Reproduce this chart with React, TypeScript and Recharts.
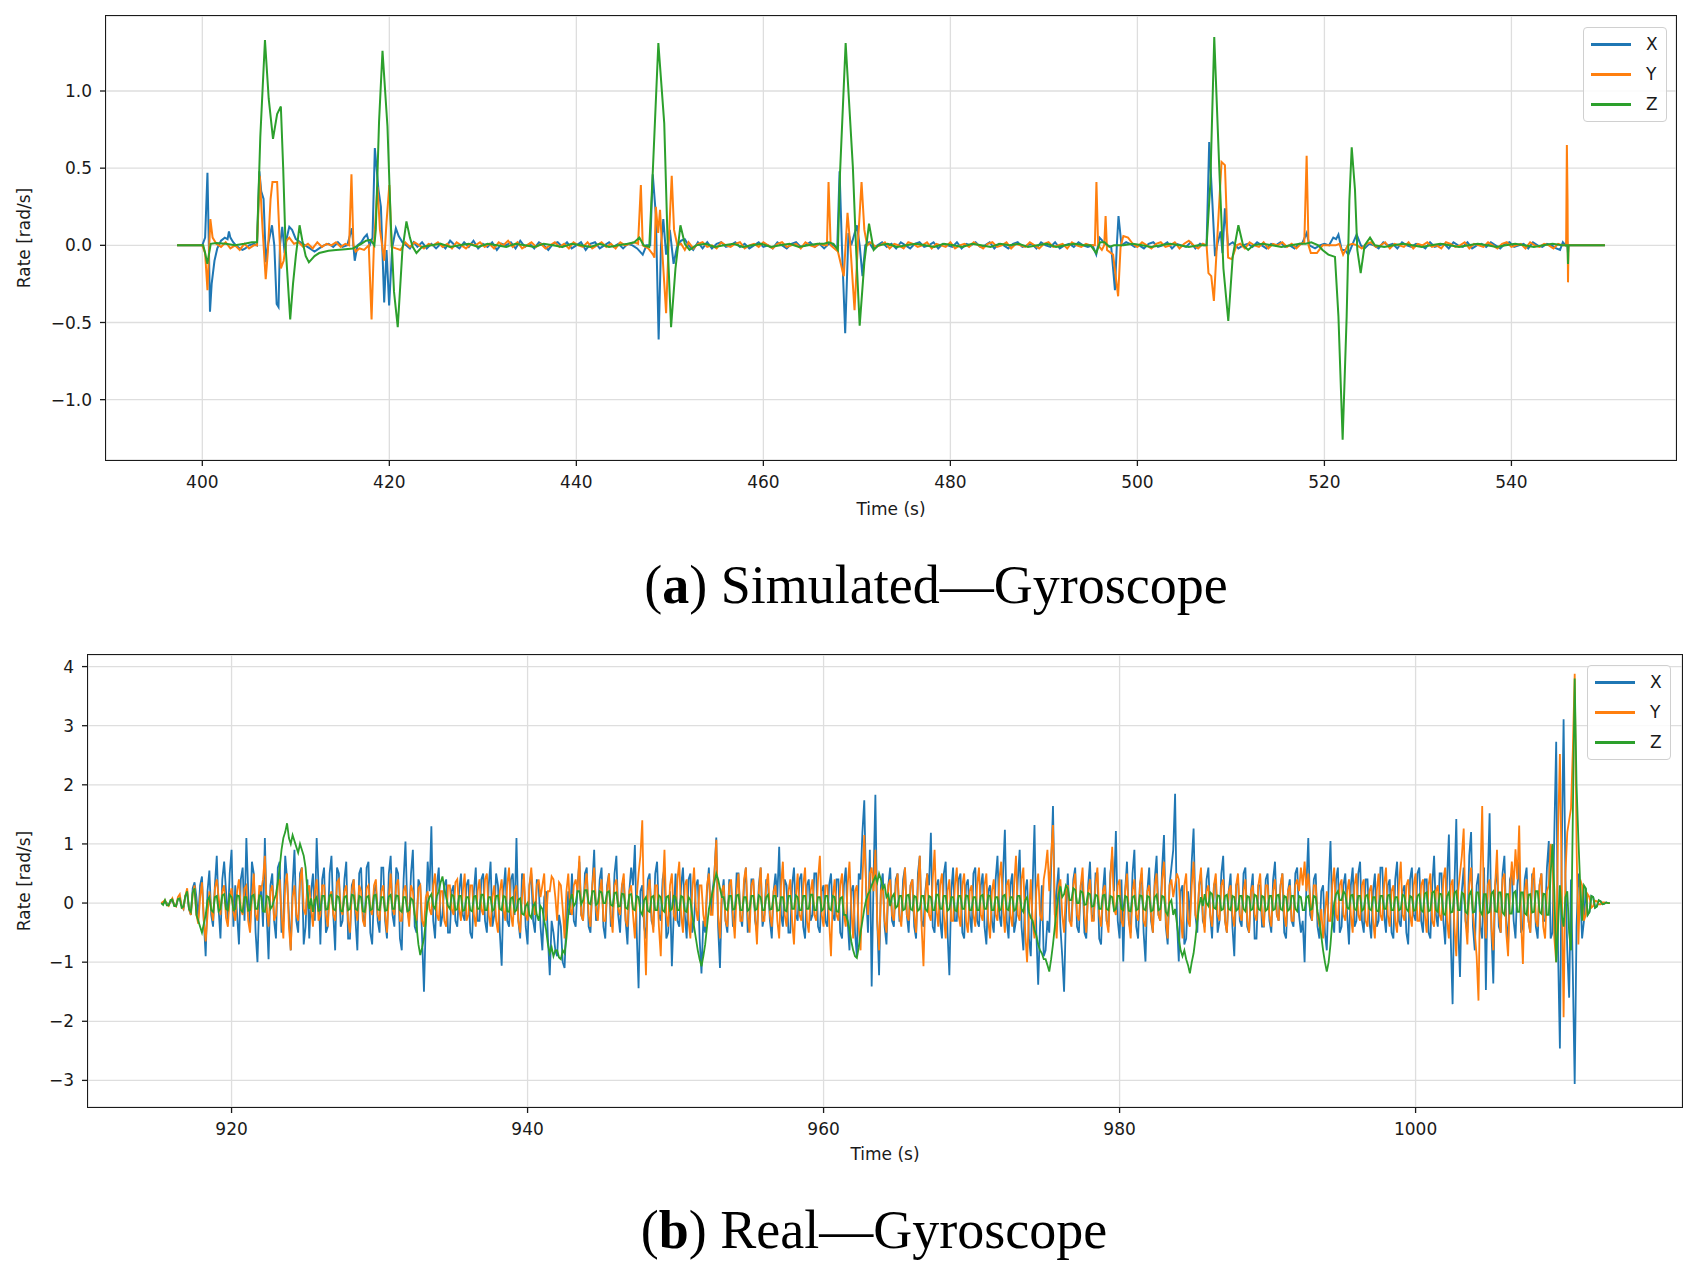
import { LineChart, Line, XAxis, YAxis, CartesianGrid } from "recharts";

const COLORS = ["#1f77b4", "#ff7f0e", "#2ca02c"];
const SERIES_NAMES = ["X", "Y", "Z"];

// (a) Simulated gyroscope: [time (s), rate (rad/s)]
const simX = [
  [397.3, 0], [400.0, 0], [400.3, 0.05], [400.55, 0.47], [400.7, 0.0], [400.82, -0.43], [401.0, -0.25], [401.3, -0.1], [401.6, -0.02], [402.0, 0.03],
  [402.4, 0.05], [402.7, 0.04], [402.85, 0.09], [403.0, 0.05], [403.3, 0.02], [403.6, 0.0], [404.0, -0.02], [404.3, -0.03], [404.6, -0.02], [405.0, 0.0],
  [405.5, 0.01], [405.85, 0.0], [406.1, 0.48], [406.3, 0.35], [406.55, 0.3], [406.8, -0.11], [407.05, 0.01], [407.45, 0.13], [407.7, 0.0], [407.95, -0.38],
  [408.15, -0.4], [408.3, 0.0], [408.55, 0.12], [408.8, -0.05], [409.0, 0.04], [409.3, 0.12], [409.6, 0.1], [410.0, 0.04], [410.5, 0.02], [411.0, 0.0],
  [411.5, -0.02], [412.0, -0.04], [412.5, -0.02], [413.0, 0.0], [413.5, 0.01], [414.0, -0.01], [414.5, 0.02], [415.0, -0.01], [415.5, 0.0], [416.0, 0.11],
  [416.3, -0.1], [416.6, 0.0], [417.0, 0.02], [417.3, 0.05], [417.6, 0.07], [417.9, 0.0], [418.2, 0.05], [418.45, 0.63], [418.84, 0.36], [419.1, 0.25],
  [419.45, -0.37], [419.7, -0.03], [419.98, -0.39], [420.3, -0.02], [420.7, 0.11], [421.0, 0.06], [421.4, 0.02], [421.8, 0.0], [422.2, -0.02], [422.6, 0.02],
  [423.0, -0.01], [423.5, 0.02], [424.0, -0.02], [424.5, 0.01], [425.0, -0.02], [425.5, 0.01], [426.0, -0.02], [426.5, 0.03], [427.0, 0.0], [427.5, -0.02],
  [428.0, 0.02], [428.5, -0.01], [429.0, 0.03], [429.5, -0.02], [430.0, 0.01], [430.5, -0.01], [431.0, 0.02], [431.5, -0.03], [432.0, 0.01], [432.5, 0.0],
  [433.0, 0.02], [433.5, -0.02], [434.0, 0.03], [434.5, -0.01], [435.0, 0.01], [435.5, -0.02], [436.0, 0.02], [436.5, 0.0], [437.0, -0.03], [437.5, 0.01],
  [438.0, 0.02], [438.5, -0.01], [439.0, 0.02], [439.5, -0.02], [440.0, 0.0], [440.5, 0.02], [441.0, -0.03], [441.5, 0.01], [442.0, 0.02], [442.5, -0.02],
  [443.0, 0.0], [443.5, 0.02], [444.0, -0.01], [444.5, 0.01], [445.0, -0.02], [445.5, 0.01], [446.0, 0.0], [446.5, -0.02], [447.1, -0.06], [447.5, 0.0],
  [447.9, 0.0], [448.17, 0.46], [448.5, 0.2], [448.8, -0.61], [449.05, 0.0], [449.3, 0.17], [449.6, -0.06], [450.0, 0.1], [450.4, -0.12], [450.8, 0.0],
  [451.2, 0.03], [451.6, 0.04], [452.0, 0.0], [452.5, -0.03], [453.0, 0.02], [453.5, -0.02], [454.0, 0.02], [454.5, -0.02], [455.0, 0.01], [455.5, 0.02],
  [456.0, -0.01], [456.5, 0.0], [457.0, 0.02], [457.5, -0.01], [458.0, 0.01], [458.5, -0.02], [459.0, 0.0], [459.5, 0.02], [460.0, -0.01], [460.5, 0.0],
  [461.0, -0.02], [461.5, 0.02], [462.0, 0.0], [462.5, -0.02], [463.0, 0.01], [463.5, 0.02], [464.0, -0.01], [464.5, 0.0], [465.0, 0.02], [465.5, -0.01],
  [466.0, 0.01], [466.5, -0.02], [467.0, 0.01], [467.5, 0.0], [467.9, -0.02], [468.15, 0.48], [468.4, 0.0], [468.75, -0.57], [469.1, 0.08], [469.4, 0.0],
  [470.0, 0.13], [470.3, 0.0], [470.6, -0.2], [470.9, 0.0], [471.3, 0.02], [471.7, -0.02], [472.2, 0.0], [472.7, 0.02], [473.2, -0.01], [473.7, 0.01],
  [474.2, -0.02], [474.7, 0.02], [475.2, 0.0], [475.7, -0.02], [476.2, 0.01], [476.7, 0.02], [477.2, -0.01], [477.7, 0.0], [478.2, 0.02], [478.7, -0.02],
  [479.2, 0.01], [479.7, 0.0], [480.2, -0.01], [480.7, 0.02], [481.2, -0.02], [481.7, 0.01], [482.2, 0.0], [482.7, 0.02], [483.2, -0.01], [483.7, 0.0],
  [484.2, 0.02], [484.7, -0.02], [485.2, 0.01], [485.7, 0.0], [486.2, -0.02], [486.7, 0.01], [487.2, 0.02], [487.7, -0.01], [488.2, 0.0], [488.7, 0.01],
  [489.2, -0.02], [489.7, 0.02], [490.2, 0.0], [490.7, -0.01], [491.2, 0.02], [491.7, -0.02], [492.2, 0.0], [492.7, 0.01], [493.2, -0.01], [493.7, 0.02],
  [494.2, 0.0], [494.7, -0.01], [495.2, 0.0], [495.6, -0.06], [495.95, 0.05], [496.4, 0.02], [496.8, 0.0], [497.2, -0.01], [497.6, -0.29], [497.8, 0.0],
  [497.98, 0.19], [498.3, 0.0], [498.8, 0.02], [499.2, 0.01], [499.7, -0.01], [500.2, 0.0], [500.7, -0.02], [501.2, 0.01], [501.7, 0.02], [502.2, -0.01],
  [502.7, 0.0], [503.2, 0.02], [503.7, -0.02], [504.2, 0.01], [504.7, 0.0], [505.2, -0.01], [505.7, 0.02], [506.2, -0.02], [506.7, 0.01], [507.1, 0.0],
  [507.4, 0.0], [507.68, 0.67], [508.0, 0.3], [508.3, -0.07], [508.6, 0.02], [508.9, 0.09], [509.1, -0.05], [509.36, 0.24], [509.7, 0.0], [510.2, 0.02],
  [510.8, -0.02], [511.3, 0.0], [511.8, 0.01], [512.3, -0.01], [512.8, 0.02], [513.3, 0.0], [513.8, -0.02], [514.3, 0.01], [514.8, 0.0], [515.3, 0.02],
  [515.8, -0.01], [516.3, 0.0], [516.8, -0.02], [517.3, 0.01], [517.6, 0.01], [518.1, 0.08], [518.4, 0.0], [519.0, -0.02], [519.5, 0.0], [520.0, 0.01],
  [520.5, 0.0], [520.95, 0.05], [521.25, 0.04], [521.5, 0.07], [521.85, -0.03], [522.2, -0.03], [522.56, -0.06], [523.1, 0.02], [523.45, 0.07], [523.9, 0.0],
  [524.3, -0.02], [524.8, 0.01], [525.3, 0.0], [525.8, -0.02], [526.3, 0.02], [526.8, 0.0], [527.3, 0.01], [527.8, -0.02], [528.3, 0.02], [528.8, 0.0],
  [529.3, -0.01], [529.8, 0.01], [530.3, 0.0], [530.8, -0.02], [531.3, 0.02], [531.8, -0.01], [532.3, 0.0], [532.8, 0.01], [533.3, -0.02], [533.8, 0.02],
  [534.3, 0.0], [534.8, -0.01], [535.3, 0.02], [535.8, -0.02], [536.3, 0.0], [536.8, 0.01], [537.3, -0.01], [537.8, 0.02], [538.3, 0.0], [538.8, -0.02],
  [539.3, 0.01], [539.8, 0.02], [540.3, -0.01], [540.8, 0.0], [541.3, 0.01], [541.8, -0.02], [542.3, 0.02], [542.8, 0.0], [543.3, -0.01], [543.8, 0.01],
  [544.3, 0.0], [544.8, -0.02], [545.2, -0.03], [545.5, 0.02], [545.8, 0.0], [545.95, 0.03], [546.05, -0.05], [546.1, 0.0], [550.0, 0],
];

const simY = [
  [397.3, 0], [400.0, 0], [400.3, -0.05], [400.55, -0.29], [400.86, 0.17], [401.1, 0.05], [401.5, 0.01], [402.0, -0.01], [402.5, 0.02], [403.0, -0.02],
  [403.5, 0.0], [404.0, -0.03], [404.5, 0.01], [405.0, -0.02], [405.5, 0.0], [405.85, 0.0], [406.14, 0.45], [406.45, 0.1], [406.78, -0.22], [407.0, -0.05],
  [407.3, 0.3], [407.5, 0.41], [408.0, 0.41], [408.15, 0.2], [408.4, -0.15], [408.7, -0.1], [409.0, 0.03], [409.3, 0.05], [409.8, 0.01], [410.3, 0.02],
  [410.8, -0.01], [411.3, 0.01], [411.8, -0.02], [412.3, 0.02], [412.8, -0.01], [413.3, 0.01], [413.8, 0.0], [414.3, 0.02], [414.8, -0.01], [415.3, 0.01],
  [415.7, 0.0], [415.95, 0.46], [416.16, 0.0], [416.4, -0.04], [416.8, -0.02], [417.3, -0.03], [417.8, 0.0], [418.1, -0.48], [418.35, 0.0], [418.73, 0.38],
  [419.0, 0.1], [419.45, -0.1], [419.7, 0.15], [420.0, 0.39], [420.25, -0.01], [420.7, -0.02], [421.2, -0.03], [421.7, 0.02], [422.2, -0.01], [422.7, 0.02],
  [423.2, 0.0], [423.7, -0.02], [424.2, 0.01], [424.7, 0.0], [425.2, 0.02], [425.7, -0.01], [426.2, 0.01], [426.7, -0.02], [427.2, 0.02], [427.7, 0.0],
  [428.2, -0.02], [428.7, 0.01], [429.2, 0.0], [429.7, 0.02], [430.2, -0.01], [430.7, 0.01], [431.2, -0.02], [431.7, 0.02], [432.2, 0.0], [432.7, 0.03],
  [433.2, -0.01], [433.7, 0.02], [434.2, -0.02], [434.7, 0.0], [435.2, 0.02], [435.7, -0.01], [436.2, 0.01], [436.7, -0.02], [437.2, 0.0], [437.7, 0.02],
  [438.2, -0.01], [438.7, 0.01], [439.2, -0.02], [439.7, 0.02], [440.2, 0.0], [440.7, -0.01], [441.2, 0.02], [441.7, -0.02], [442.2, 0.0], [442.7, 0.02],
  [443.2, -0.01], [443.7, 0.01], [444.2, -0.02], [444.7, 0.02], [445.2, 0.0], [445.7, 0.01], [446.2, 0.02], [446.6, 0.01], [446.9, 0.39], [447.1, 0.0],
  [447.7, -0.02], [448.2, -0.06], [448.35, -0.08], [448.5, 0.25], [448.75, 0.08], [448.95, 0.23], [449.15, 0.0], [449.6, -0.44], [449.85, -0.02], [450.2, 0.45],
  [450.45, 0.1], [450.8, 0.0], [451.2, 0.01], [451.6, -0.03], [452.0, 0.02], [452.5, -0.02], [453.0, 0.01], [453.5, 0.02], [454.0, -0.01], [454.5, 0.0],
  [455.0, -0.02], [455.5, 0.02], [456.0, 0.0], [456.5, -0.01], [457.0, 0.01], [457.5, 0.02], [458.0, -0.02], [458.5, 0.0], [459.0, 0.01], [459.5, -0.01],
  [460.0, 0.02], [460.5, 0.0], [461.0, -0.02], [461.5, 0.01], [462.0, 0.02], [462.5, -0.01], [463.0, 0.0], [463.5, 0.01], [464.0, -0.02], [464.5, 0.02],
  [465.0, 0.0], [465.5, -0.01], [466.0, 0.01], [466.5, 0.0], [466.8, 0.0], [466.97, 0.41], [467.2, 0.0], [467.97, -0.04], [468.6, -0.2], [469.0, 0.21],
  [469.3, 0.0], [469.75, -0.42], [470.1, 0.0], [470.5, 0.41], [470.8, 0.1], [471.1, 0.0], [471.5, 0.02], [472.0, -0.01], [472.5, 0.0], [473.0, 0.02],
  [473.5, -0.02], [474.0, 0.01], [474.5, 0.0], [475.0, -0.02], [475.5, 0.02], [476.0, 0.01], [476.5, -0.01], [477.0, 0.0], [477.5, 0.02], [478.0, -0.02],
  [478.5, 0.01], [479.0, 0.0], [479.5, -0.01], [480.0, 0.02], [480.5, -0.02], [481.0, 0.0], [481.5, 0.01], [482.0, -0.01], [482.5, 0.02], [483.0, 0.0],
  [483.5, -0.02], [484.0, 0.01], [484.5, 0.02], [485.0, -0.01], [485.5, 0.0], [486.0, 0.02], [486.5, -0.02], [487.0, 0.01], [487.5, 0.0], [488.0, -0.01],
  [488.5, 0.02], [489.0, 0.0], [489.5, -0.02], [490.0, 0.01], [490.5, 0.02], [491.0, -0.01], [491.5, 0.0], [492.0, 0.01], [492.5, -0.02], [493.0, 0.02],
  [493.5, 0.0], [494.0, -0.01], [494.5, 0.01], [495.0, 0.0], [495.45, 0.0], [495.62, 0.41], [495.8, 0.0], [496.2, -0.03], [496.45, 0.0], [496.6, 0.19],
  [496.75, -0.03], [497.4, -0.06], [497.94, -0.33], [498.2, -0.01], [498.5, 0.06], [499.0, 0.05], [499.5, 0.01], [500.0, -0.01], [500.5, 0.02], [501.0, 0.0],
  [501.5, -0.02], [502.0, 0.01], [502.5, 0.02], [503.0, -0.01], [503.5, 0.0], [504.0, 0.02], [504.5, -0.02], [505.0, 0.01], [505.5, 0.03], [506.0, 0.0],
  [506.5, -0.02], [507.0, 0.01], [507.4, 0.0], [507.6, -0.18], [507.9, -0.2], [508.18, -0.36], [508.5, 0.0], [509.0, 0.54], [509.36, 0.52], [509.7, -0.08],
  [510.1, -0.09], [510.6, 0.0], [511.0, 0.01], [511.5, -0.02], [512.0, 0.02], [512.5, 0.0], [513.0, -0.01], [513.5, 0.02], [514.0, -0.02], [514.5, 0.01],
  [515.0, 0.0], [515.5, 0.02], [516.0, -0.01], [516.5, 0.01], [517.0, -0.02], [517.5, 0.01], [517.85, 0.02], [518.1, 0.58], [518.3, 0.0], [518.55, -0.05],
  [519.2, -0.05], [519.8, 0.0], [520.5, 0.0], [521.2, 0.0], [521.6, 0.01], [522.0, -0.06], [522.5, 0.0], [523.0, 0.01], [523.5, 0.0], [524.0, -0.02],
  [524.5, 0.01], [525.0, 0.02], [525.5, -0.01], [526.0, 0.0], [526.5, 0.02], [527.0, -0.02], [527.5, 0.01], [528.0, 0.0], [528.5, -0.01], [529.0, 0.02],
  [529.5, -0.02], [530.0, 0.01], [530.5, 0.0], [531.0, 0.02], [531.5, -0.01], [532.0, 0.0], [532.5, -0.02], [533.0, 0.02], [533.5, 0.01], [534.0, -0.01],
  [534.5, 0.0], [535.0, 0.02], [535.5, -0.02], [536.0, 0.01], [536.5, 0.0], [537.0, -0.01], [537.5, 0.02], [538.0, 0.0], [538.5, -0.02], [539.0, 0.01],
  [539.5, 0.02], [540.0, -0.01], [540.5, 0.0], [541.0, 0.01], [541.5, -0.02], [542.0, 0.02], [542.5, 0.0], [543.0, -0.01], [543.5, 0.01], [544.0, 0.0],
  [544.5, -0.02], [545.0, 0.01], [545.5, 0.0], [545.85, 0.0], [545.93, 0.65], [546.0, 0.3], [546.05, -0.24], [546.1, 0.0], [550.0, 0],
];

const simZ = [
  [397.3, 0], [400.1, 0], [400.3, -0.05], [400.54, -0.12], [400.9, 0.01], [401.5, 0.015], [402.5, 0.01], [403.5, 0.0], [404.5, 0.01], [405.3, 0.02],
  [405.85, 0.02], [406.2, 0.7], [406.7, 1.33], [407.1, 0.95], [407.56, 0.69], [408.0, 0.85], [408.4, 0.9], [408.65, 0.5], [408.9, 0.0], [409.4, -0.48],
  [409.7, -0.25], [410.0, -0.07], [410.4, 0.13], [410.7, 0.03], [411.06, -0.07], [411.4, -0.11], [412.0, -0.07], [412.5, -0.05], [413.5, -0.035], [414.3, -0.03],
  [415.3, -0.025], [416.1, -0.02], [417.0, 0.01], [417.5, 0.03], [418.0, 0.035], [418.4, 0.0], [418.55, 0.1], [418.9, 0.8], [419.27, 1.26], [419.8, 0.77],
  [420.16, 0.14], [420.5, -0.3], [420.9, -0.53], [421.4, -0.03], [421.83, 0.155], [422.2, 0.05], [422.5, -0.01], [422.9, -0.05], [423.5, -0.01], [424.5, 0.0],
  [425.5, 0.01], [426.5, -0.01], [427.5, 0.0], [428.5, 0.01], [429.5, -0.01], [430.5, 0.01], [431.5, 0.0], [432.5, -0.01], [433.5, 0.01], [434.5, 0.0],
  [435.5, -0.01], [436.5, 0.01], [437.5, 0.0], [438.5, -0.01], [439.5, 0.01], [440.5, 0.0], [441.5, -0.01], [442.5, 0.01], [443.5, -0.01], [444.5, 0.0],
  [445.5, 0.01], [446.2, 0.02], [446.74, 0.05], [447.2, 0.0], [447.8, -0.01], [448.17, 0.47], [448.77, 1.31], [449.4, 0.79], [449.77, 0.0], [450.13, -0.53],
  [450.6, -0.15], [451.13, 0.13], [451.6, 0.01], [452.1, -0.03], [452.8, 0.0], [453.8, 0.01], [454.8, -0.01], [455.8, 0.0], [456.8, 0.01], [457.8, -0.01],
  [458.8, 0.0], [459.8, 0.01], [460.8, -0.01], [461.8, 0.0], [462.8, 0.01], [463.8, -0.01], [464.8, 0.0], [465.8, 0.01], [466.5, 0.01], [467.0, 0.02],
  [467.5, 0.01], [467.97, -0.03], [468.2, 0.47], [468.8, 1.31], [469.57, 0.51], [469.9, 0.0], [470.3, -0.52], [470.8, -0.11], [471.3, 0.14], [471.8, -0.03],
  [472.3, 0.0], [473.3, 0.01], [474.3, -0.01], [475.3, 0.0], [476.3, 0.01], [477.3, 0.0], [478.3, -0.01], [479.3, 0.01], [480.3, 0.0], [481.3, -0.01],
  [482.3, 0.01], [483.3, 0.0], [484.3, -0.01], [485.3, 0.01], [486.3, 0.0], [487.3, 0.01], [488.3, -0.01], [489.3, 0.0], [490.3, 0.01], [491.3, -0.01],
  [492.3, 0.0], [493.3, 0.01], [494.3, 0.0], [495.0, 0.0], [495.6, -0.05], [496.0, 0.02], [496.5, 0.02], [497.0, -0.01], [497.5, 0.0], [498.5, 0.0],
  [499.5, 0.01], [500.5, 0.0], [501.5, -0.01], [502.5, 0.0], [503.5, 0.01], [504.5, 0.0], [505.5, -0.01], [506.5, 0.0], [507.4, 0.0], [507.8, 0.4],
  [508.22, 1.35], [508.75, 0.51], [509.2, -0.15], [509.72, -0.49], [510.2, -0.07], [510.8, 0.13], [511.3, 0.0], [511.85, -0.03], [512.4, 0.0], [513.4, 0.01],
  [514.4, 0.0], [515.4, -0.01], [516.4, 0.0], [517.4, 0.01], [518.0, 0.01], [518.6, 0.02], [519.35, 0.0], [519.8, -0.03], [520.42, -0.06], [521.13, -0.075],
  [521.5, -0.46], [521.95, -1.26], [522.38, -0.46], [522.67, 0.29], [522.92, 0.635], [523.27, 0.36], [523.52, -0.03], [523.88, -0.18], [524.3, 0.0], [524.88, 0.05],
  [525.4, 0.0], [526.4, -0.01], [527.4, 0.0], [528.4, 0.01], [529.4, 0.0], [530.4, -0.01], [531.4, 0.0], [532.4, 0.01], [533.4, 0.0], [534.4, -0.01],
  [535.4, 0.0], [536.4, 0.01], [537.4, 0.0], [538.4, -0.01], [539.4, 0.0], [540.4, 0.01], [541.4, 0.0], [542.4, -0.01], [543.4, 0.0], [544.4, 0.01],
  [545.4, 0.0], [546.0, 0.0], [546.05, -0.12], [546.1, 0.0], [550.0, 0],
];

const simTicksX = [400, 420, 440, 460, 480, 500, 520, 540];
const simTicksY = [-1.0, -0.5, 0.0, 0.5, 1.0];

// (b) Real gyroscope, sampled every 0.125 s from 915.25 s (one row = 5 s)
const realStart = 915.25;
const realStep = 0.125;

const realX = [
  0, -0.01, 0.02, 0.0, -0.03, 0.02, 0.04, -0.02, -0.05, 0.06, 0.08, -0.04, -0.1, 0.12, 0.15, -0.1, -0.2, 0.25, 0.35, 0.1, -0.25, 0.3, 0.45, -0.3, -0.9, 0.2, 0.55, -0.2, -0.4, 0.3, 0.8, -0.1, -0.6, 0.4, 0.7, 0.2, -0.3, 0.5, 0.9, -0.4,
  0.3, -0.2, -0.7, 0.4, 0.6, -0.3, 1.1, 0.2, -0.4, 0.7, 0.5, -0.5, -1.0, 0.1, 0.3, -0.4, 1.1, -0.2, -0.95, 0.3, 0.5, -0.3, -0.6, 0.6, 0.7, -0.5, -0.3, 0.8, 0.4, -0.2, -0.8, 0.3, 0.9, -0.3, -0.5, 0.5, 0.6, -0.7, -0.4, 0.4,
  -0.6, 0.2, 0.5, -0.3, 1.1, 0.3, -0.7, 0.4, 0.6, -0.5, -0.4, 0.5, 0.8, -0.2, -0.8, 0.6, 0.5, -0.4, -0.3, 0.4, 0.7, -0.6, -0.6, 0.3, 0.4, -0.3, -0.8, 0.5, 0.6, -0.2, -0.4, 0.6, 0.7, -0.5, -0.7, 0.2, 0.3, -0.3, -0.5, 0.6,
  0.6, -0.3, -0.6, 0.5, 0.8, -0.2, -0.4, 0.6, 0.5, -0.6, -0.8, 0.4, 1.04, -0.1, -0.3, 0.5, 0.9, -0.4, -0.5, 0.4, 0.3, -0.6, -1.5, -0.3, 0.7, 0.2, 1.3, -0.3, -0.6, 0.3, 0.6, -0.4, -0.2, 0.3, 0.4, -0.5, -0.5, 0.2, 0.3, -0.3,
  -0.4, 0.2, 0.5, -0.2, -0.3, 0.3, 0.4, -0.5, -0.6, 0.2, 0.6, -0.3, -0.3, 0.4, 0.5, -0.3, -0.5, 0.3, 0.7, -0.4, -0.2, 0.5, 0.3, -0.5, -1.06, 0.2, 0.6, -0.3, -0.4, 0.4, 0.5, -0.2, 1.1, -0.3, -0.6, 0.5, 0.4, -0.4, -0.7, 0.3,
  0.5, -0.3, -0.5, 0.4, 0.3, -0.4, -0.8, 0.1, 0.2, -0.6, -1.22, -0.3, -0.5, -0.8, -0.9, -0.2, -0.4, -1.0, -1.1, -0.3, 0.2, -0.2, 0.5, -0.3, -0.4, 0.3, 0.7, -0.2, -0.3, 0.5, 0.6, -0.4, -0.5, 0.3, 0.9, -0.3, -0.2, 0.4, 0.6, -0.4,
  -0.6, 0.3, 0.5, -0.4, -0.3, 0.5, 0.8, -0.2, -0.5, 0.3, 0.4, -0.3, -0.7, 0.2, 0.6, 0.3, 0.98, -0.5, -1.44, 0.2, 0.3, -0.4, -0.6, 0.4, 0.5, -0.3, -0.4, 0.5, 0.7, -0.2, -0.3, 0.4, 0.6, -0.6, -0.5, 0.2, -1.07, -0.2, 0.5, -0.3,
  -0.4, 0.3, 0.6, -0.2, -0.6, 0.4, 0.5, -0.5, -0.3, 0.3, 0.4, -0.6, -1.19, -0.3, -0.5, 0.2, 0.6, -0.2, 0.2, 0.5, 1.11, -0.4, -1.1, 0.1, 0.4, -0.3, -0.5, 0.4, 0.3, -0.4, -0.3, 0.5, 0.5, -0.2, -0.4, 0.3, 0.6, -0.5, -0.3, 0.4,
  0.4, -0.3, -0.5, 0.3, 0.6, -0.4, -0.2, 0.4, 0.3, -0.3, -0.6, 0.2, 0.5, 0.1, 0.95, -0.2, -0.4, 0.4, 0.3, -0.5, -0.5, 0.3, 0.6, -0.2, -0.3, 0.4, 0.5, -0.4, -0.6, 0.3, 0.4, -0.3, -0.2, 0.5, 0.5, -0.4, -0.5, 0.2, 0.3, -0.3,
  -0.4, 0.3, 0.5, -0.2, -0.3, 0.4, 0.4, -0.5, -0.6, 0.3, 0.6, -0.3, -0.8, 0.2, 0.3, -0.5, -0.9, 0.5, 0.4, 1.2, 1.74, 0.2, -0.5, 0.9, -1.41, 0.4, 1.83, -0.3, -1.22, 0.3, 0.5, -0.4, -0.7, 0.3, 0.6, -0.3, -0.4, 0.4, 0.5, -0.3,
  -0.3, 0.4, 0.6, -0.2, -0.5, 0.3, 0.4, -0.4, -0.6, 0.5, 0.8, -0.3, -0.4, 0.2, 0.5, 0.3, 1.19, -0.4, -0.5, 0.3, 0.4, -0.3, -0.6, 0.5, 0.7, -0.5, -1.22, 0.2, 0.6, -0.3, -0.3, 0.4, 0.5, -0.5, -0.6, 0.3, 0.4, -0.2, -0.5, 0.5,
  0.6, -0.3, -0.4, 0.3, 0.5, -0.4, -0.7, 0.2, 0.3, -0.3, -0.5, 0.4, 0.8, -0.2, -0.4, 0.5, 1.24, -0.3, -0.6, 0.3, 0.5, -0.5, -0.3, 0.4, 0.9, -0.4, -0.8, 0.2, 0.4, -0.6, -0.9, 0.3, 1.32, -0.5, -1.38, -0.4, 0.3, -0.9, -0.8, -0.3,
  -0.5, 0.6, 1.64, -0.2, 0.2, 0.6, -0.4, -0.9, -1.5, -0.2, 0.5, -0.3, -0.3, 0.4, 0.6, -0.4, -0.5, 0.3, 0.4, -0.5, -0.6, 0.3, 0.7, -0.2, -0.3, 0.5, 0.5, -0.6, -0.7, 0.2, 0.6, -0.3, -0.4, 0.5, 0.8, 0.2, 1.22, -0.3, -0.6, 0.4,
  -0.99, 0.2, 0.7, -0.3, -0.5, 0.5, 0.9, -0.4, -0.6, 0.3, 0.5, -0.5, -0.99, 0.2, 0.6, -0.3, -0.5, 0.4, 0.8, -0.2, -0.3, 0.6, 1.15, -0.4, -0.7, 0.3, 0.6, 0.9, 1.85, -0.3, -0.99, 0.2, 0.3, -0.7, -0.6, 0.2, -0.3, 0.7, 1.26, -0.2,
  -0.5, 0.3, 0.5, -0.3, -0.4, 0.4, 0.6, -0.2, -0.6, 0.3, 0.4, -0.5, -0.3, 0.5, 0.8, -0.3, -0.5, 0.2, 0.5, -0.4, -0.9, 0.3, 0.4, -0.3, -0.4, 0.5, 0.6, -0.4, -0.5, 0.2, 0.5, -0.6, -0.6, 0.3, 0.3, -0.4, -0.4, 0.4, 0.5, -0.3,
  -0.5, 0.4, 0.7, -0.2, -0.3, 0.3, 0.5, -0.5, -0.6, 0.2, 0.4, -0.3, -0.4, 0.5, 0.6, -0.2, -0.5, -0.3, -1.0, 0.3, 1.1, -0.2, -0.3, 0.4, 0.5, -0.4, -0.6, 0.2, 0.3, -0.5, -0.8, 0.3, 1.05, -0.3, -0.5, 0.4, 0.6, -0.5, -0.4, 0.3,
  0.5, -0.2, -0.7, 0.3, 0.6, -0.4, -0.3, 0.5, 0.7, -0.3, -0.5, 0.4, 0.4, -0.3, -0.6, 0.2, 0.5, -0.4, -0.3, 0.6, 0.6, -0.2, -0.5, 0.3, 0.4, -0.5, -0.6, 0.4, 0.7, -0.3, -0.4, 0.2, 0.3, -0.5, -0.7, 0.4, 0.6, -0.2, -0.3, 0.5,
  0.6, -0.3, -0.5, 0.4, 0.4, -0.5, -0.6, 0.3, 0.8, -0.2, -0.4, 0.5, 0.5, -0.3, -0.7, 0.4, 1.16, -0.6, -1.71, 0.3, 1.42, -0.4, -1.25, 0.2, 0.6, -0.3, -0.5, 0.8, 1.2, -0.4, -0.8, 0.3, 0.5, -0.4, -0.6, 0.6, -1.47, 0.4, 1.52, -0.5,
  -1.36, 0.3, 0.6, -0.4, -0.5, 0.5, 0.8, -0.3, -0.7, 0.4, 0.5, -0.3, -0.6, 0.3, 0.7, -0.5, -0.4, 0.4, 0.6, -0.3, -0.5, 0.5, 0.4, -0.4, -0.6, 0.3, 0.5, -0.3, -0.3, 0.6, 1.05, -0.6, -0.5, 1.2, 2.73, -0.8, -2.46, 0.9, 3.11, 0.4,
  -0.8, -1.6, 0.4, -1.2, -3.06, -0.4, 0.5, 0.2, -0.6, -0.3, 0.25, -0.2, -0.15, 0.12, 0.1, -0.08, -0.05, 0.04, 0.03, -0.02, -0.01, 0.01, 0, 0,
];

const realY = [
  0, 0.02, 0.05, -0.02, -0.05, 0.03, 0.08, -0.04, -0.06, 0.1, 0.15, -0.05, -0.1, 0.12, 0.25, -0.1, -0.2, 0.15, 0.3, -0.2, -0.35, 0.1, 0.35, -0.3, -0.65, -0.2, 0.2, -0.1, -0.3, 0.25, 0.4, 0.1, -0.2, 0.2, 0.3, -0.25, -0.4, 0.1, 0.25, -0.15,
  -0.3, 0.2, 0.4, -0.1, -0.2, 0.25, 0.3, -0.3, -0.5, 0.1, 0.5, -0.2, -0.3, 0.3, 0.2, 0.4, 0.8, -0.1, -0.4, 0.2, 0.3, -0.3, -0.2, 0.3, 0.4, -0.2, -0.6, 0.3, 0.5, -0.4, -0.8, 0.1, 0.3, -0.2, -0.3, 0.35, 0.6, -0.1, -0.2, 0.2,
  0.3, -0.1, -0.4, 0.2, 0.4, -0.3, -0.2, 0.3, 0.3, -0.2, -0.4, 0.1, 0.2, -0.2, -0.3, 0.35, 0.4, -0.1, -0.2, 0.2, 0.3, -0.3, -0.5, 0.2, 0.4, -0.1, -0.3, 0.3, 0.2, -0.3, -0.4, 0.25, 0.3, -0.1, -0.2, 0.3, 0.4, -0.2, -0.3, 0.2,
  0.3, -0.2, -0.5, 0.1, 0.5, -0.1, -0.2, 0.3, 0.4, -0.3, -0.3, 0.2, 0.3, -0.1, -0.4, 0.3, 0.2, -0.2, -0.3, 0.25, 0.3, -0.3, -0.4, 0.1, 0.2, -0.1, -0.2, 0.3, 0.5, -0.2, -0.3, 0.2, 0.2, -0.3, -0.4, 0.3, 0.3, -0.1, -0.2, 0.35,
  0.4, -0.1, -0.3, 0.2, 0.5, -0.3, -0.2, 0.3, 0.3, -0.2, -0.4, 0.2, 0.4, -0.1, -0.2, 0.4, 0.5, -0.2, -0.4, 0.1, 0.3, -0.3, -0.5, 0.2, 0.4, -0.1, -0.3, 0.3, 0.6, -0.2, -0.4, 0.2, 0.3, -0.3, -0.5, 0.1, 0.5, -0.2, -0.3, 0.3,
  0.6, 0.1, -0.2, 0.3, 0.4, 0.1, 0.3, 0.5, -0.3, 0.2, 0.2, 0.45, 0.4, 0.1, -0.3, 0.35, 0.3, -0.1, -0.6, 0.2, 0.5, -0.1, -0.2, 0.3, 0.4, 0.2, 0.8, -0.2, -0.3, 0.3, 0.5, -0.2, -0.4, 0.3, 0.6, -0.1, -0.3, 0.2, 0.4, -0.3,
  -0.3, 0.2, 0.5, -0.2, -0.5, 0.3, 0.4, -0.1, -0.2, 0.3, 0.5, -0.3, -0.4, 0.2, 0.3, -0.2, -0.6, 0.1, 0.5, 0.8, 1.4, -0.3, -1.22, 0.2, 0.4, -0.2, -0.5, 0.3, 0.3, -0.4, -0.9, 0.2, 0.9, -0.2, -0.4, 0.3, 0.5, -0.2, -0.3, 0.4,
  0.7, -0.2, -0.5, 0.3, 0.4, -0.3, -0.6, 0.2, 0.6, -0.1, -0.3, 0.3, 0.3, -0.2, -0.4, 0.3, 0.5, -0.2, -0.2, 0.5, 1.07, -0.2, -0.6, 0.2, 0.3, -0.3, -0.4, 0.3, 0.4, -0.2, -0.6, 0.2, 0.5, -0.3, -0.3, 0.4, 0.6, -0.2, -0.5, 0.3,
  0.4, -0.2, -0.7, 0.2, 0.6, -0.3, -0.3, 0.3, 0.5, -0.2, -0.4, 0.2, 0.3, -0.3, -0.6, 0.3, 0.7, -0.2, -0.4, 0.2, 0.4, -0.3, -0.7, 0.1, 0.5, -0.2, -0.3, 0.3, 0.6, -0.3, -0.5, 0.2, 0.4, -0.2, -0.3, 0.4, 0.8, -0.2, -0.4, 0.3,
  0.3, -0.3, -0.9, 0.1, 0.4, -0.2, -0.3, 0.3, 0.5, -0.2, -0.4, 0.3, 0.7, -0.1, -0.6, 0.2, 0.3, -0.4, -0.8, 0.4, 1.15, 0.3, -0.2, 0.5, 0.6, 0.2, 0.9, -0.3, -0.8, 0.2, 0.3, -0.3, -0.5, 0.3, 0.4, -0.2, -0.3, 0.3, 0.5, -0.2,
  -0.4, 0.2, 0.6, -0.2, -0.3, 0.3, 0.4, -0.2, -0.5, 0.3, 0.8, -0.4, -1.07, 0.1, 0.5, -0.2, -0.3, 0.4, 0.9, -0.1, -0.4, 0.3, 0.5, -0.2, -0.6, 0.2, 0.4, -0.3, -0.3, 0.3, 0.6, -0.2, -0.4, 0.3, 0.5, -0.3, -0.5, 0.2, 0.3, -0.2,
  -0.4, 0.3, 0.6, -0.2, -0.3, 0.3, 0.5, -0.3, -0.6, 0.2, 0.4, -0.2, -0.3, 0.4, 0.7, -0.1, -0.5, 0.3, 0.4, -0.2, -0.4, 0.3, 0.8, -0.2, -0.3, 0.4, 0.6, -0.5, -1.0, -0.2, 0.4, -0.3, -0.6, 0.2, 0.5, -0.2, -0.3, 0.4, 0.6, 0.9,
  0.2, 0.8, 1.32, -0.2, -0.6, 0.3, 0.4, -0.2, -0.5, 0.2, 0.3, -0.3, -0.4, 0.3, 0.5, -0.2, -0.3, 0.3, 0.6, -0.2, -0.5, 0.2, 0.4, -0.3, -0.3, 0.3, 0.6, -0.2, -0.4, 0.2, 0.3, -0.3, -0.5, 0.4, 0.95, -0.1, -0.2, 0.3, 0.4, -0.3,
  -0.4, 0.2, 0.5, -0.3, -0.6, 0.2, 0.4, -0.2, -0.3, 0.3, 0.6, -0.3, -0.4, 0.2, 0.3, -0.2, -0.5, 0.3, 0.5, -0.2, -0.3, 0.4, 0.7, -0.3, -0.6, 0.3, 0.4, 0.1, 0.3, 0.5, 0.4, -0.2, -0.6, 0.3, 0.5, -0.3, -0.4, 0.3, 0.7, -0.2,
  -0.3, 0.3, 0.6, -0.2, -0.5, 0.2, 0.3, -0.2, -0.4, 0.3, 0.5, -0.2, -0.3, 0.3, 0.4, -0.3, -0.5, 0.2, 0.3, -0.2, -0.4, 0.3, 0.5, -0.2, -0.3, 0.2, 0.4, -0.3, -0.5, 0.2, 0.3, -0.2, -0.3, 0.3, 0.5, -0.2, -0.4, 0.3, 0.3, -0.2,
  -0.4, 0.2, 0.4, -0.2, -0.3, 0.3, 0.5, -0.2, -0.4, 0.2, 0.3, -0.3, -0.3, 0.3, 0.4, 0.2, 0.6, 0.3, 0.7, 0.2, 0.5, 0.1, -0.3, 0.3, 0.3, -0.2, -0.4, -0.1, -0.6, -0.2, 0.2, -0.3, -0.3, 0.3, 0.6, -0.2, -0.3, 0.3, 0.4, -0.2,
  -0.3, 0.2, 0.4, -0.2, -0.5, 0.3, 0.5, -0.2, -0.3, 0.3, 0.4, -0.3, -0.4, 0.2, 0.3, -0.3, -0.6, 0.2, 0.5, -0.2, -0.3, 0.3, 0.6, -0.2, -0.4, 0.2, 0.3, -0.3, -0.5, 0.3, 0.7, -0.2, -0.3, 0.3, 0.4, -0.2, -0.4, 0.3, 0.5, -0.3,
  -0.3, 0.3, 0.4, -0.2, -0.5, 0.3, 0.5, -0.3, -0.4, 0.2, 0.3, -0.2, -0.3, 0.4, 0.6, -0.3, -0.6, 0.3, 0.4, -0.4, -0.9, 0.2, 0.5, 0.8, 1.26, -0.3, -0.7, 0.3, 0.6, -0.2, -0.5, -0.9, -1.65, 0.4, 1.64, -0.2, -0.6, 0.3, 0.4, -0.4,
  -0.8, 0.3, 0.9, -0.2, -0.5, 0.4, 0.5, -0.5, -0.9, 0.2, 0.7, 0.3, 0.91, 0.4, 1.31, -0.3, -1.03, 0.2, 0.4, -0.3, -0.5, 0.4, 0.6, -0.3, -0.4, 0.3, 0.5, -0.4, -0.6, 0.2, 0.3, 1.0, 0.8, -0.6, -1.0, 1.2, 2.52, 0.3, -1.93, 0.5,
  1.2, 1.4, 1.6, 2.6, 3.88, 1.0, -0.7, 0.4, 0.3, -0.3, -0.2, 0.15, 0.1, -0.08, -0.05, 0.04, 0.03, -0.02, -0.02, 0.01, 0.01, 0, 0, 0,
];

const realZ = [
  0, -0.03, 0.05, -0.04, -0.04, 0.05, 0.06, -0.05, -0.05, 0.07, 0.08, -0.08, -0.06, 0.12, 0.2, -0.1, -0.15, 0.18, 0.25, -0.2, -0.3, -0.4, -0.5, -0.35, -0.2, 0.05, 0.1, -0.12, -0.15, 0.1, 0.12, -0.14, -0.1, 0.13, 0.15, -0.1, -0.12, 0.14, 0.1, -0.12,
  -0.1, 0.13, 0.12, -0.12, -0.15, 0.1, 0.1, -0.13, -0.12, 0.12, 0.14, -0.1, -0.1, 0.13, 0.12, -0.14, -0.15, 0.12, 0.1, -0.1, -0.05, 0.05, 0.15, 0.35, 0.6, 0.9, 1.1, 1.2, 1.35, 1.1, 1.0, 1.15, 1.05, 0.95, 0.85, 1.0, 0.9, 0.8, 0.6, 0.2,
  -0.1, 0.08, -0.15, 0.05, 0.1, -0.13, -0.12, 0.12, 0.12, -0.11, -0.1, 0.13, 0.14, -0.1, -0.12, 0.12, 0.1, -0.13, -0.14, 0.1, 0.12, -0.12, -0.1, 0.14, 0.13, -0.1, -0.12, 0.12, 0.1, -0.14, -0.15, 0.1, 0.12, -0.12, -0.1, 0.13, 0.14, -0.11, -0.12, 0.1,
  0.1, -0.13, -0.12, 0.11, 0.14, -0.1, -0.1, 0.13, 0.12, -0.12, -0.15, 0.1, 0.1, -0.14, -0.12, 0.08, 0.05, -0.2, -0.4, -0.7, -0.88, -0.75, -0.6, -0.3, 0.0, 0.1, 0.15, -0.05, -0.1, 0.12, 0.2, 0.35, 0.45, 0.25, 0.1, -0.05, -0.1, 0.14, 0.12, -0.12,
  -0.1, 0.12, 0.12, -0.13, -0.12, 0.1, 0.1, -0.12, -0.14, 0.11, 0.12, -0.1, -0.1, 0.14, 0.14, -0.12, -0.12, 0.1, 0.1, -0.13, -0.1, 0.12, 0.13, -0.1, -0.12, 0.12, 0.1, -0.14, -0.15, 0.08, 0.1, -0.15, -0.12, 0.06, 0.08, -0.18, -0.2, -0.05, 0.0, -0.2,
  -0.25, -0.05, 0.0, -0.2, -0.3, -0.05, -0.1, -0.3, -0.45, -0.7, -0.85, -0.75, -0.9, -0.8, -0.8, -0.92, -0.95, -0.8, -0.85, -0.6, -0.2, 0.05, 0.15, -0.05, 0.0, 0.2, 0.2, -0.02, 0.05, 0.22, 0.22, 0.0, -0.02, 0.2, 0.2, -0.03, 0.0, 0.2, 0.18, 0.0,
  0.0, 0.18, 0.2, -0.03, -0.05, 0.17, 0.18, -0.06, -0.05, 0.16, 0.15, -0.08, -0.1, 0.14, 0.15, -0.1, -0.12, 0.12, 0.1, -0.14, -0.2, 0.05, 0.1, -0.13, -0.15, 0.1, 0.12, -0.12, -0.12, 0.13, 0.1, -0.12, -0.15, 0.1, 0.12, -0.13, -0.1, 0.12, 0.1, -0.12,
  -0.12, 0.12, 0.1, -0.13, -0.15, 0.1, 0.05, -0.2, -0.4, -0.6, -0.8, -0.95, -1.07, -0.9, -0.7, -0.4, -0.1, 0.05, 0.2, 0.35, 0.5, 0.4, 0.25, 0.1, 0.1, -0.1, -0.12, 0.12, 0.12, -0.11, -0.1, 0.13, 0.14, -0.12, -0.12, 0.1, 0.1, -0.13, -0.1, 0.12,
  0.12, -0.12, -0.1, 0.13, 0.1, -0.12, -0.12, 0.1, 0.14, -0.11, -0.1, 0.12, 0.12, -0.13, -0.12, 0.1, 0.1, -0.12, -0.14, 0.12, 0.12, -0.1, -0.1, 0.13, 0.1, -0.12, -0.12, 0.12, 0.12, -0.1, -0.1, 0.14, 0.14, -0.12, -0.12, 0.1, 0.1, -0.13, -0.1, 0.12,
  0.12, -0.1, -0.12, 0.12, 0.1, -0.14, -0.15, 0.08, 0.1, -0.2, -0.2, -0.3, -0.45, -0.65, -0.8, -0.9, -0.93, -0.75, -0.5, -0.3, -0.1, 0.05, 0.15, 0.2, 0.3, 0.38, 0.45, 0.35, 0.5, 0.4, 0.25, 0.3, 0.1, 0.15, -0.05, 0.1, 0.15, -0.08, -0.05, 0.12,
  0.12, -0.12, -0.1, 0.13, 0.14, -0.1, -0.12, 0.12, 0.1, -0.13, -0.1, 0.12, 0.12, -0.1, -0.14, 0.12, 0.1, -0.12, -0.12, 0.14, 0.14, -0.1, -0.1, 0.12, 0.12, -0.13, -0.1, 0.1, 0.1, -0.12, -0.14, 0.12, 0.12, -0.1, -0.1, 0.13, 0.12, -0.12, -0.12, 0.1,
  0.1, -0.12, -0.12, 0.12, 0.14, -0.1, -0.1, 0.13, 0.12, -0.12, -0.12, 0.1, 0.1, -0.13, -0.1, 0.12, 0.14, -0.1, -0.12, 0.1, 0.1, -0.13, -0.1, 0.12, 0.12, -0.1, -0.15, 0.05, 0.1, -0.15, -0.25, -0.3, -0.45, -0.55, -0.7, -0.8, -0.85, -0.95, -0.95, -1.05,
  -1.16, -0.95, -0.7, -0.4, -0.1, 0.15, 0.28, 0.1, 0.15, 0.3, 0.25, 0.05, 0.05, 0.25, 0.22, 0.0, 0.0, 0.2, 0.18, -0.03, -0.02, 0.17, 0.15, -0.06, -0.05, 0.14, 0.12, -0.1, -0.1, 0.13, 0.14, -0.1, -0.12, 0.12, 0.1, -0.13, -0.1, 0.12, 0.12, -0.1,
  -0.12, 0.12, 0.1, -0.13, -0.14, 0.1, 0.12, -0.12, -0.1, 0.13, 0.12, -0.1, -0.12, 0.12, 0.1, -0.14, -0.12, 0.1, 0.14, -0.12, -0.1, 0.12, 0.1, -0.15, -0.2, 0.0, 0.05, -0.2, -0.1, -0.35, -0.6, -0.8, -0.9, -0.8, -0.95, -1.05, -1.19, -1.0, -0.85, -0.6,
  -0.3, -0.05, 0.1, -0.05, 0.15, 0.0, -0.05, 0.18, 0.15, -0.08, -0.1, 0.13, 0.12, -0.12, -0.1, 0.12, 0.14, -0.1, -0.12, 0.12, 0.1, -0.13, -0.1, 0.12, 0.12, -0.1, -0.14, 0.12, 0.1, -0.12, -0.1, 0.14, 0.12, -0.1, -0.12, 0.12, 0.1, -0.13, -0.1, 0.12,
  0.12, -0.12, -0.1, 0.13, 0.14, -0.1, -0.12, 0.12, 0.1, -0.13, -0.1, 0.12, 0.12, -0.1, -0.14, 0.12, 0.1, -0.12, -0.12, 0.1, 0.12, -0.12, -0.1, 0.12, 0.1, -0.15, -0.3, -0.55, -0.8, -1.0, -1.16, -1.0, -0.7, -0.3, 0.0, 0.15, 0.2, 0.05, 0.05, 0.2,
  0.15, -0.08, -0.1, 0.13, 0.14, -0.1, -0.12, 0.12, 0.12, -0.13, -0.1, 0.12, 0.14, -0.1, -0.12, 0.1, 0.1, -0.13, -0.14, 0.12, 0.12, -0.1, -0.1, 0.13, 0.14, -0.12, -0.12, 0.1, 0.1, -0.12, -0.1, 0.14, 0.12, -0.1, -0.14, 0.12, 0.1, -0.13, -0.12, 0.12,
  0.15, -0.12, -0.15, 0.16, 0.18, -0.14, -0.12, 0.18, 0.2, -0.12, -0.15, 0.16, 0.15, -0.18, -0.2, 0.12, 0.18, -0.16, -0.15, 0.17, 0.2, -0.12, -0.12, 0.18, 0.15, -0.15, -0.18, 0.14, 0.2, -0.16, -0.15, 0.18, 0.18, -0.14, -0.2, 0.15, 0.15, -0.17, -0.15, 0.16,
  0.2, -0.14, -0.15, 0.18, 0.18, -0.16, -0.2, 0.15, 0.15, -0.18, -0.18, 0.17, 0.2, -0.15, -0.15, 0.18, 0.18, -0.17, -0.2, 0.14, 0.15, -0.16, -0.15, 0.2, 0.2, -0.15, -0.18, 0.16, 0.15, -0.2, -0.2, 0.5, 1.0, 0.2, -1.0, -0.4, 0.3, -0.2, -0.4, 0.1,
  0.2, -0.5, -0.8, 1.5, 3.8, 2.0, 1.07, 0.3, -0.3, 0.3, 0.25, -0.2, -0.15, 0.12, 0.1, -0.08, -0.06, 0.05, 0.03, -0.02, -0.01, 0.01, 0, 0,
];

const realTicksX = [920, 940, 960, 980, 1000];
const realTicksY = [-3, -2, -1, 0, 1, 2, 3, 4];

const simRows = [simX, simY, simZ].map((s) => s.map(([t, v]) => ({ t, v })));
const realRows = realX.map((x, i) => ({ t: realStart + i * realStep, x, y: realY[i], z: realZ[i] }));

const minus = (s: string) => s.replace("-", "\u2212");
const fmt1 = (v: number) => minus(v.toFixed(1));
const fmt0 = (v: number) => minus(String(v));

const FONT = "DejaVu Sans";
const tickStyle = { fill: "#1a1a1a", fontSize: 17, fontFamily: FONT };
const tickLine = { stroke: "#1a1a1a", strokeWidth: 1.3 };

const abs = (left: number, top: number) => ({ position: "absolute" as const, left, top });

const Legend = ({ left, top }: { left: number; top: number }) => (
  <div
    style={{
      ...abs(left, top),
      width: 84,
      height: 95,
      border: "1.3px solid #d0d0d0",
      borderRadius: 4,
      background: "rgba(255,255,255,0.85)",
      boxSizing: "border-box",
    }}
  >
    {SERIES_NAMES.map((name, i) => (
      <div key={name}>
        <div style={{ ...abs(7, 15 + i * 30), width: 40, height: 2.5, background: COLORS[i] }} />
        <div style={{ ...abs(62, 6 + i * 30), fontSize: 17, lineHeight: "20px", color: "#1a1a1a", fontFamily: FONT }}>
          {name}
        </div>
      </div>
    ))}
  </div>
);

const AxisText = ({ x, y, text, rotate }: { x: number; y: number; text: string; rotate?: boolean }) => (
  <div
    style={{
      ...abs(x, y),
      transform: `translate(-50%, -50%)${rotate ? " rotate(-90deg)" : ""}`,
      whiteSpace: "nowrap",
      fontSize: 17,
      lineHeight: 1,
      color: "#1a1a1a",
      fontFamily: FONT,
    }}
  >
    {text}
  </div>
);

const Caption = ({ x, top, letter, text }: { x: number; top: number; letter: string; text: string }) => (
  <div
    style={{
      ...abs(x, top),
      transform: "translateX(-50%)",
      whiteSpace: "nowrap",
      fontFamily: "'Liberation Serif', serif",
      fontSize: 54,
      lineHeight: "54px",
      color: "#000",
    }}
  >
    (<b>{letter}</b>) {text}
  </div>
);

const Frame = ({ left, top, width, height }: { left: number; top: number; width: number; height: number }) => (
  <div
    style={{
      ...abs(left - 0.7, top - 0.7),
      width: width + 1.4,
      height: height + 1.4,
      border: "1.4px solid #1a1a1a",
      boxSizing: "border-box",
      pointerEvents: "none",
    }}
  />
);

export default function App() {
  return (
    <div style={{ position: "relative", left: -8, top: -8, width: 1698, height: 1266, background: "#fff" }}>
      {/* (a) Simulated */}
      <div style={abs(0, 0)}>
        <LineChart width={1698} height={520} margin={{ top: 16, right: 22, bottom: 0, left: 0 }}>
          <CartesianGrid stroke="#dedede" strokeWidth={1.3} />
          <XAxis
            type="number"
            dataKey="t"
            domain={[389.7, 557.6]}
            ticks={simTicksX}
            allowDataOverflow
            interval={0}
            height={60}
            axisLine={false}
            tickLine={tickLine}
            tickSize={6}
            tickMargin={10}
            tick={tickStyle}
          />
          <YAxis
            type="number"
            domain={[-1.391, 1.486]}
            ticks={simTicksY}
            allowDataOverflow
            interval={0}
            width={106}
            axisLine={false}
            tickLine={tickLine}
            tickSize={6}
            tickMargin={8}
            tick={tickStyle}
            tickFormatter={fmt1}
          />
          {simRows.map((rows, i) => (
            <Line
              key={SERIES_NAMES[i]}
              data={rows}
              dataKey="v"
              name={SERIES_NAMES[i]}
              type="linear"
              stroke={COLORS[i]}
              strokeWidth={2}
              dot={false}
              isAnimationActive={false}
            />
          ))}
        </LineChart>
      </div>
      <Frame left={106} top={16} width={1570} height={444} />
      <Legend left={1583} top={27} />
      <AxisText x={891} y={509} text="Time (s)" />
      <AxisText x={24} y={238} text="Rate [rad/s]" rotate />
      <Caption x={936} top={558} letter="a" text="Simulated—Gyroscope" />

      {/* (b) Real */}
      <div style={abs(0, 640)}>
        <LineChart width={1698} height={527} margin={{ top: 15, right: 16, bottom: 0, left: 0 }} data={realRows}>
          <CartesianGrid stroke="#dedede" strokeWidth={1.3} />
          <XAxis
            type="number"
            dataKey="t"
            domain={[910.3, 1018.0]}
            ticks={realTicksX}
            allowDataOverflow
            interval={0}
            height={60}
            axisLine={false}
            tickLine={tickLine}
            tickSize={6}
            tickMargin={10}
            tick={tickStyle}
          />
          <YAxis
            type="number"
            domain={[-3.45, 4.196]}
            ticks={realTicksY}
            allowDataOverflow
            interval={0}
            width={88}
            axisLine={false}
            tickLine={tickLine}
            tickSize={6}
            tickMargin={8}
            tick={tickStyle}
            tickFormatter={fmt0}
          />
          {["x", "y", "z"].map((key, i) => (
            <Line
              key={key}
              dataKey={key}
              name={SERIES_NAMES[i]}
              type="linear"
              stroke={COLORS[i]}
              strokeWidth={1.8}
              dot={false}
              isAnimationActive={false}
            />
          ))}
        </LineChart>
      </div>
      <Frame left={88} top={655} width={1594} height={452} />
      <Legend left={1587} top={665} />
      <AxisText x={885} y={1154} text="Time (s)" />
      <AxisText x={24} y={881} text="Rate [rad/s]" rotate />
      <Caption x={874} top={1203} letter="b" text="Real—Gyroscope" />
    </div>
  );
}
